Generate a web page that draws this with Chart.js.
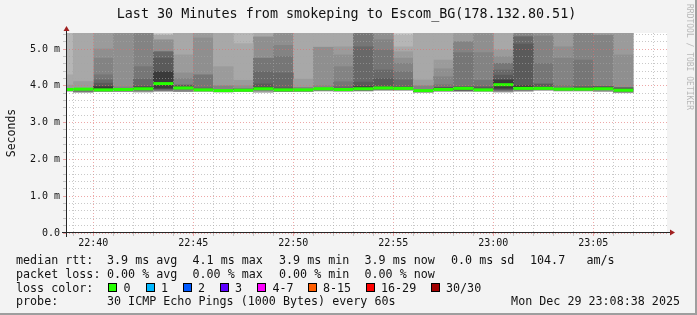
<!DOCTYPE html>
<html>
<head>
<meta charset="utf-8">
<script src="https://cdn.jsdelivr.net/npm/chart.js@4.4.1/dist/chart.umd.min.js"></script>
<style>
  html, body { margin: 0; padding: 0; background: #f3f3f3; }
  #frame {
    position: relative; width: 697px; height: 315px; box-sizing: border-box;
    background: #f3f3f3; border-style: solid; border-width: 0 2px 2px 0; border-color: #9e9e9e;
    overflow: hidden; font-family: 'DejaVu Sans Mono', monospace; color: #111;
  }
  #chart { position: absolute; left: 0; top: 0; }
  .t { position: absolute; white-space: pre; font-size: 11.7px; line-height: 14px; }
  .sq { position: absolute; width: 9px; height: 9px; border: 1px solid #000; box-sizing: border-box; }
  #title { position: absolute; left: 0; top: 6px; width: 693px; text-align: center; font-size: 13.4px; line-height: 15px; white-space: pre; }
  #mark { position: absolute; left: 685px; top: 4px; writing-mode: vertical-rl; font-size: 8px; color: #b8b8b8; white-space: pre; }
</style>
</head>
<body>
<div id="frame">
  <canvas id="chart" width="697" height="315"></canvas>
  <div id="title">Last 30 Minutes from smokeping to Escom_BG(178.132.80.51)</div>
  <div id="mark">RRDTOOL / TOBI OETIKER</div>
  <div id="legend"></div>
</div>
<script>
// one column per minute, start time of each slot
const slots = ['22:38', '22:39', '22:40', '22:41', '22:42', '22:43', '22:44', '22:45', '22:46', '22:47',
  '22:48', '22:49', '22:50', '22:51', '22:52', '22:53', '22:54', '22:55', '22:56', '22:57',
  '22:58', '22:59', '23:00', '23:01', '23:02', '23:03', '23:04', '23:05', '23:06'];

// median rtt in ms
const medianRtt = [3.90, 3.91, 3.89, 3.90, 3.92, 4.06, 3.94, 3.89, 3.87, 3.88,
  3.92, 3.89, 3.89, 3.92, 3.90, 3.92, 3.94, 3.93, 3.87, 3.90,
  3.93, 3.89, 4.03, 3.93, 3.93, 3.91, 3.91, 3.92, 3.88];

// smoke above the median: [upper edge in ms, rank shade] going outward
const smokeAbove = [
  [[4.02, 7], [4.3, 8], [6, 9]],
  [[4.12, 7], [6, 8]],
  [[3.98, 0], [4.07, 2], [4.16, 3], [4.3, 4], [4.75, 5], [5.0, 6], [6, 7]],
  [[3.97, 5], [6, 6]],
  [[3.97, 0], [4.18, 3], [4.52, 4], [6, 5]],
  [[4.38, 0], [4.75, 2], [4.93, 3], [5.25, 6], [5.38, 8], [6, 10]],
  [[4.02, 2], [4.2, 5], [4.35, 6], [4.85, 7], [6, 8]],
  [[3.95, 3], [4.3, 4], [5.3, 6], [6, 7]],
  [[4.0, 5], [4.52, 7], [6, 8]],
  [[3.91, 0], [4.0, 6], [4.15, 7], [5.15, 8], [6, 9]],
  [[3.96, 0], [4.05, 2], [4.38, 3], [4.75, 4], [5.33, 6], [6, 8]],
  [[3.95, 2], [4.35, 3], [4.8, 4], [5.1, 5], [6, 6]],
  [[3.96, 5], [4.18, 7], [6, 8]],
  [[4.0, 5], [5.05, 6], [6, 8]],
  [[3.98, 3], [4.11, 4], [4.52, 5], [4.84, 6], [5.06, 7], [6, 8]],
  [[3.98, 0], [4.1, 2], [5.06, 3], [6, 4]],
  [[4.2, 2], [4.43, 3], [4.97, 4], [5.25, 5], [6, 6]],
  [[3.98, 2], [4.16, 3], [4.38, 4], [4.61, 5], [4.75, 6], [4.93, 7], [5.06, 8], [5.38, 9], [6, 10]],
  [[4.0, 5], [4.16, 7], [6, 8]],
  [[3.95, 1], [4.03, 4], [4.25, 5], [4.47, 6], [4.7, 7], [6, 8]],
  [[3.98, 2], [4.9, 4], [5.2, 5], [6, 7]],
  [[3.97, 2], [4.15, 4], [4.9, 5], [6, 6]],
  [[4.16, 0], [4.29, 2], [4.43, 3], [4.61, 4], [4.79, 6], [4.97, 7], [6, 8]],
  [[4.0, 0], [5.15, 2], [5.34, 3], [6, 5]],
  [[4.05, 2], [4.6, 4], [5.35, 5], [6, 6]],
  [[4.0, 4], [4.75, 5], [5.06, 6], [6, 7]],
  [[3.98, 2], [4.7, 4], [6, 5]],
  [[3.98, 1], [5.38, 5], [6, 7]],
  [[3.95, 2], [4.85, 6], [6, 7]]
];

// smoke below the median: [lower edge in ms, rank shade] going outward
const smokeBelow = [
  [[3.85, 7]], [[3.84, 4], [3.82, 7]], [[3.84, 6]], [[3.84, 6]], [[3.86, 4], [3.83, 7]],
  [[3.93, 0], [3.88, 3], [3.85, 6]], [[3.88, 4], [3.84, 6]], [[3.84, 8]], [[3.83, 7]], [[3.84, 6]],
  [[3.86, 5], [3.82, 8]], [[3.84, 5]], [[3.84, 6]], [[3.86, 5]], [[3.85, 6]],
  [[3.86, 4]], [[3.88, 4]], [[3.88, 4]], [[3.84, 1], [3.82, 6]], [[3.85, 5]],
  [[3.88, 1], [3.85, 5]], [[3.85, 5]], [[3.93, 0], [3.88, 2], [3.83, 6]], [[3.88, 3], [3.85, 7]], [[3.88, 4]],
  [[3.86, 5]], [[3.86, 5]], [[3.87, 5], [3.84, 8]], [[3.83, 4], [3.81, 8]]
];

// grey level per smoke rank, darkest next to the median
const shadeGrey = [0x3a, 0x4a, 0x5a, 0x68, 0x76, 0x83, 0x8f, 0x9b, 0xa8, 0xb6, 0xc8];

const lossLabels = ['0', '1', '2', '3', '4-7', '8-15', '16-29', '30/30'];
const lossColors = ['#26ff00', '#00b8ff', '#0059ff', '#5e00ff', '#ff00ff', '#ff5e00', '#ff0000', '#a00000'];

const toMin = s => { const [h, m] = s.split(':').map(Number); return (h - 22) * 60 + m; };
const centers = slots.map(s => toMin(s) + 0.5);
const grey = s => { const v = shadeGrey[s]; return 'rgb(' + v + ',' + v + ',' + v + ')'; };
const isWhole = v => Math.abs(v - Math.round(v)) < 1e-6;

function bandSets(bands) {
  const n = Math.max(...bands.map(b => b.length));
  const sets = [];
  for (let k = 0; k < n; k++) {
    const pts = [];
    bands.forEach((b, i) => {
      if (!b[k]) return;
      const from = k === 0 ? medianRtt[i] : b[k - 1][0];
      pts.push({ x: centers[i], y: [from, b[k][0]], shade: b[k][1] });
    });
    sets.push({
      type: 'bar', data: pts, grouped: false, barPercentage: 1, categoryPercentage: 1,
      borderWidth: 0, clip: 0,
      backgroundColor: c => (c.raw ? grey(c.raw.shade) : '#888')
    });
  }
  return sets;
}

const medianSet = {
  type: 'line', order: -1, clip: 0,
  data: centers.map((x, i) => ({ x: x, y: medianRtt[i] })),
  showLine: false, pointStyle: 'line', pointRadius: 10, pointHoverRadius: 10,
  pointBorderWidth: 3, pointBorderColor: lossColors[0], borderColor: lossColors[0]
};

const gridColor = c => {
  if (!c.tick) return 'rgba(0,0,0,0)';
  const v = c.tick.value;
  if (c.scale.axis === 'x') return v % 5 === 0 ? 'rgba(225,110,110,0.6)' : 'rgba(165,165,165,0.6)';
  if (Math.abs(v * 5 - Math.round(v * 5)) > 1e-6) return 'rgba(0,0,0,0)';
  return isWhole(v) ? 'rgba(225,110,110,0.6)' : 'rgba(165,165,165,0.6)';
};

const fmtTime = v => {
  const h = 22 + Math.floor(v / 60), m = v % 60;
  return h + ':' + String(m).padStart(2, '0');
};

// white plot area, axis lines and arrows
const frame = {
  id: 'frame',
  beforeDraw(chart) {
    const { ctx, chartArea: a } = chart;
    ctx.save();
    ctx.fillStyle = '#ffffff';
    ctx.fillRect(a.left, a.top, a.right - a.left, a.bottom - a.top);
    ctx.restore();
  },
  afterDraw(chart) {
    const { ctx, chartArea: a } = chart;
    const yb = a.bottom - 0.5, xl = a.left + 0.5;
    ctx.save();
    ctx.strokeStyle = '#262626';
    ctx.lineWidth = 1;
    ctx.beginPath();
    ctx.moveTo(a.left - 4, yb); ctx.lineTo(a.right + 4, yb);
    ctx.moveTo(xl, a.bottom + 4); ctx.lineTo(xl, a.top - 4);
    ctx.stroke();
    ctx.fillStyle = '#a02020';
    ctx.beginPath();
    ctx.moveTo(a.right + 8, yb); ctx.lineTo(a.right + 3, yb - 3); ctx.lineTo(a.right + 3, yb + 3);
    ctx.closePath(); ctx.fill();
    ctx.beginPath();
    ctx.moveTo(xl, a.top - 7); ctx.lineTo(xl - 3, a.top - 2); ctx.lineTo(xl + 3, a.top - 2);
    ctx.closePath(); ctx.fill();
    ctx.restore();
  }
};

Chart.defaults.font.family = "'DejaVu Sans Mono', monospace";
Chart.defaults.color = '#111';

new Chart(document.getElementById('chart'), {
  type: 'bar',
  data: { datasets: [medianSet, ...bandSets(smokeAbove), ...bandSets(smokeBelow)] },
  options: {
    responsive: false, animation: false, events: [],
    layout: { padding: { left: 0, right: 30, top: 33, bottom: 62 } },
    plugins: { legend: { display: false }, tooltip: { enabled: false }, title: { display: false } },
    scales: {
      x: {
        type: 'linear', min: 38.635, max: 68.685, offset: false,
        afterFit: s => { s.height = 20; },
        grid: { offset: false, z: 1, color: gridColor, tickColor: gridColor, tickLength: 3, lineWidth: 1 },
        border: { display: false, dash: [1, 2] },
        ticks: {
          stepSize: 1, includeBounds: false, autoSkip: false, maxRotation: 0, padding: 1,
          font: { size: 10 }, color: '#111',
          callback: v => (isWhole(v) && Math.round(v) % 5 === 0 ? fmtTime(Math.round(v)) : '')
        }
      },
      y: {
        type: 'linear', min: 0, max: 5.435,
        afterFit: s => { s.width = 66; },
        grid: { z: 1, color: gridColor, tickColor: gridColor, tickLength: 3, lineWidth: 1 },
        border: { display: false, dash: [1, 2] },
        title: { display: true, text: 'Seconds', font: { size: 11.5 }, color: '#111', padding: { top: 5, bottom: 0 } },
        ticks: {
          stepSize: 0.2, includeBounds: false, autoSkip: false, padding: 3,
          font: { size: 10 }, color: '#111',
          callback: v => (isWhole(v) ? (Math.round(v) === 0 ? '0.0' : Math.round(v).toFixed(1) + ' m') : '')
        }
      }
    }
  },
  plugins: [frame]
});

// rrdtool style legend below the graph
const legend = document.getElementById('legend');
function text(str, left, top) {
  const d = document.createElement('div');
  d.className = 't'; d.textContent = str;
  d.style.left = left + 'px'; d.style.top = top + 'px';
  legend.appendChild(d);
  return d;
}
text('median rtt:', 16, 252.5);
[['3.9 ms avg', 107], ['4.1 ms max', 192.5], ['3.9 ms min', 279], ['3.9 ms now', 364.5],
 ['0.0 ms sd', 451], ['104.7', 530], ['am/s', 586.5]].forEach(p => text(p[0], p[1], 252.5));
text('packet loss:', 16, 266.5);
[['0.00 % avg', 107], ['0.00 % max', 192.5], ['0.00 % min', 279], ['0.00 % now', 364.5]]
  .forEach(p => text(p[0], p[1], 266.5));
text('loss color:', 16, 280.5);
const sqLeft = [108, 145.5, 182.5, 219.5, 257, 307.5, 365.5, 430.5];
lossLabels.forEach((l, i) => {
  const s = document.createElement('div');
  s.className = 'sq';
  s.style.left = sqLeft[i] + 'px'; s.style.top = '283px';
  s.style.background = lossColors[i];
  legend.appendChild(s);
  text(l, sqLeft[i] + 15.5, 280.5);
});
text('probe:', 16, 294);
text('30 ICMP Echo Pings (1000 Bytes) every 60s', 107, 294);
const stamp = text('Mon Dec 29 23:08:38 2025', 0, 294);
stamp.style.left = 'auto'; stamp.style.right = '15px';
</script>
</body>
</html>
